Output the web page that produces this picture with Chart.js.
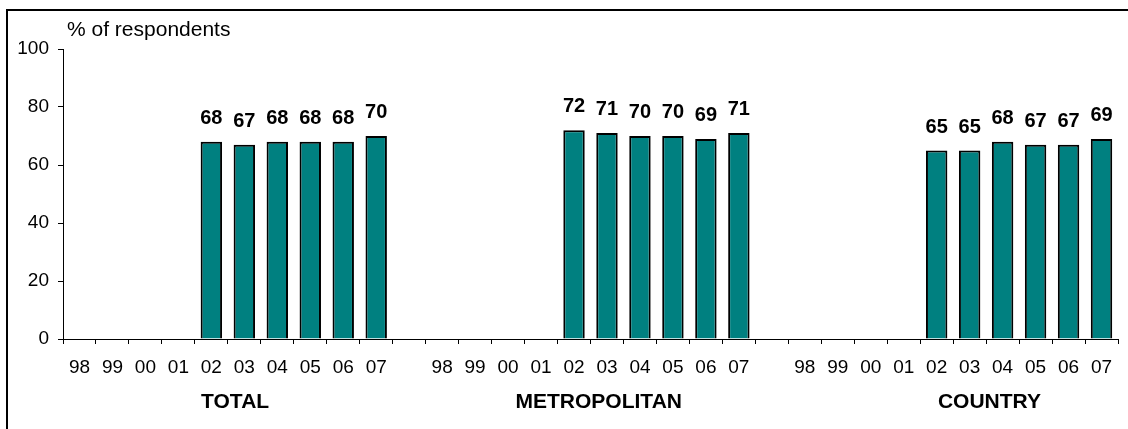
<!DOCTYPE html>
<html>
<head>
<meta charset="utf-8">
<script src="https://cdn.jsdelivr.net/npm/chart.js@4"></script>
<style>
    body { margin: 0; background: #fff; }
    #wrap { position: relative; width: 1128px; height: 429px; }
    #frame {
        position: absolute; left: 6px; top: 9px; right: 0; bottom: 0;
        border-left: 2px solid #000; border-top: 2px solid #000;
    }
    #myChart { position: absolute; left: 0; top: 0; }
</style>
</head>
<body>
<div id="wrap">
    <div id="frame"></div>
    <canvas id="myChart" width="1128" height="429"></canvas>
</div>
<script>
const years = ['98', '99', '00', '01', '02', '03', '04', '05', '06', '07'];
const groups = ['TOTAL', 'METROPOLITAN', 'COUNTRY'];
const totalValues = [null, null, null, null, 68, 67, 68, 68, 68, 70];
const metroValues = [null, null, null, null, 72, 71, 70, 70, 69, 71];
const countryValues = [null, null, null, null, 65, 65, 68, 67, 67, 69];
const yTicks = [0, 20, 40, 60, 80, 100];

const FONT = "'Liberation Sans', Arial, sans-serif";

// one empty slot between the groups
const labels = [];
const values = [];
[totalValues, metroValues, countryValues].forEach((series, g) => {
    if (g > 0) {
        labels.push('');
        values.push(null);
    }
    years.forEach((y, i) => {
        labels.push(y);
        values.push(series[i]);
    });
});

// where each group name sits, as a category index
const groupAnchors = [4.72, 15.75, 27.6];

const extrasPlugin = {
    id: 'extras',
    afterDatasetsDraw(chart) {
        const ctx = chart.ctx;
        const x = chart.scales.x;
        const meta = chart.getDatasetMeta(0);
        ctx.save();
        ctx.fillStyle = '#000';

        // value labels above bars
        ctx.font = 'bold 20px ' + FONT;
        ctx.textAlign = 'center';
        ctx.textBaseline = 'alphabetic';
        meta.data.forEach((bar, i) => {
            if (values[i] == null) return;
            ctx.fillText(String(values[i]), bar.x, bar.y - 18);
        });

        // group names under the axis
        ctx.font = 'bold 21px ' + FONT;
        ctx.textBaseline = 'middle';
        groups.forEach((name, g) => {
            const a = groupAnchors[g];
            const lo = Math.floor(a);
            const px = x.getPixelForValue(lo) + (a - lo) * (x.getPixelForValue(lo + 1) - x.getPixelForValue(lo));
            ctx.fillText(name, px, 402);
        });

        // axis title
        ctx.font = '21px ' + FONT;
        ctx.textAlign = 'left';
        ctx.fillText('% of respondents', 67, 30);
        ctx.restore();
    }
};

const ctx = document.getElementById('myChart');
const myChart = new Chart(ctx, {
    type: 'bar',
    data: {
        labels: labels,
        datasets: [{
            data: values,
            backgroundColor: '#008080',
            borderColor: '#000',
            borderWidth: 2,
            barPercentage: 0.65,
            categoryPercentage: 1
        }]
    },
    options: {
        responsive: false,
        animation: false,
        layout: { padding: { left: 0, right: 10, top: 49, bottom: 0 } },
        plugins: { legend: { display: false }, tooltip: { enabled: false } },
        scales: {
            x: {
                offset: true,
                grid: { offset: true, drawOnChartArea: false, tickLength: 5, color: '#000' },
                border: { color: '#000', width: 1 },
                ticks: {
                    color: '#000',
                    font: { family: FONT, size: 19 },
                    padding: 12,
                    maxRotation: 0,
                    autoSkip: false
                },
                afterFit: (scale) => { scale.height = 90; }
            },
            y: {
                min: 0,
                max: 100,
                afterBuildTicks: (scale) => { scale.ticks = yTicks.map(v => ({ value: v })); },
                grid: { drawOnChartArea: false, tickLength: 5, color: '#000' },
                border: { color: '#000', width: 1 },
                ticks: {
                    color: '#000',
                    font: { family: FONT, size: 19 },
                    padding: 9
                },
                afterFit: (scale) => { scale.width = 63; }
            }
        }
    },
    plugins: [extrasPlugin]
});
</script>
</body>
</html>
